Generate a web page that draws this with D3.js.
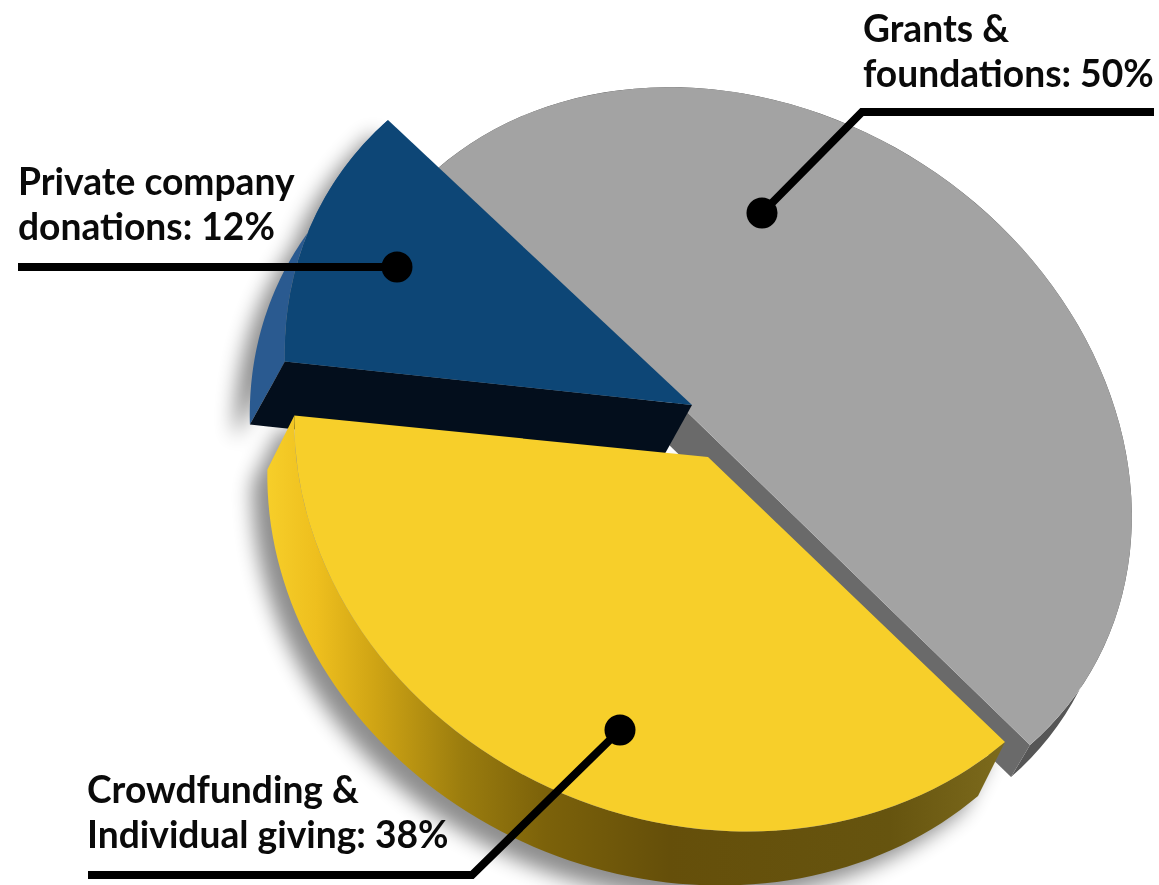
<!DOCTYPE html>
<html>
<head>
<meta charset="utf-8">
<script src="https://cdn.jsdelivr.net/npm/d3@7"></script>
<style>
  html, body { margin: 0; background: #fff; }
  svg { display: block; }
  text { font-family: Lato, sans-serif; font-weight: 700; font-size: 37.2px; fill: #0a0a0a; font-variant-ligatures: common-ligatures; }
</style>
</head>
<body>
<svg id="chart"></svg>
<script>
// values, in the order they go round the pie
const categories = ['Grants & foundations', 'Private company donations', 'Crowdfunding & Individual giving'];
const shares = [50, 12, 38];
const labelLines = [
  ['Grants &', 'foundations: '],
  ['Private company', 'donations: '],
  ['Crowdfunding &', 'Individual giving: '],
];

const width = 1159;
const height = 885;
const radius = 100;

// each slice is a flat arc pushed through its own skew, the picture is not a true ellipse
const sliceGeom = [
  { c: [733.5, 457], u: [296.5, 288], v: [266, -232], depth: [-19, 32], top: '#a3a3a3', wall: '#565656' },
  { c: [692, 405], u: [304, 285], v: [271, -240], depth: [-35, 63], top: '#0d4676', wall: '#2a5a90', side: '#030e1c' },
  { c: [708, 457], u: [297, 285], v: [288, -243], depth: [-27, 54], top: '#f7cf2a', wall: 'url(#yellowWall)' },
];

const leaderGeom = [
  { path: [[1154, 112], [862, 112], [762, 213]], dot: [762, 213], text: [863, 42] },
  { path: [[18, 267], [397, 267]], dot: [397, 267], text: [18, 195] },
  { path: [[88, 875], [472, 875], [620, 730]], dot: [620, 730], text: [87, 803] },
];

const pie = d3.pie().sort(null).value((d) => d);
const slices = pie(shares);
const arc = d3.arc().innerRadius(0).outerRadius(radius);
const line = d3.line();

const project = (g, a) => [
  g.c[0] + g.u[0] * Math.cos(a) + g.v[0] * Math.sin(a),
  g.c[1] + g.u[1] * Math.cos(a) + g.v[1] * Math.sin(a),
];
const shift = (p, d) => [p[0] + d[0], p[1] + d[1]];

const svg = d3.select('#chart')
  .attr('width', width)
  .attr('height', height)
  .attr('viewBox', `0 0 ${width} ${height}`);

const defs = svg.append('defs');

defs.append('filter')
  .attr('id', 'soft')
  .attr('x', '-20%').attr('y', '-20%').attr('width', '140%').attr('height', '140%')
  .append('feGaussianBlur')
  .attr('stdDeviation', 10);

// the source image is cropped flat just above the grey slice
defs.append('clipPath')
  .attr('id', 'topCrop')
  .append('rect')
  .attr('x', 0).attr('y', 84).attr('width', width).attr('height', height - 84);

defs.append('linearGradient')
  .attr('id', 'yellowWall')
  .attr('gradientUnits', 'userSpaceOnUse')
  .attr('x1', 265).attr('y1', 0).attr('x2', 1000).attr('y2', 0)
  .selectAll('stop')
  .data([[0, '#f7cf2a'], [0.07, '#eebf1e'], [0.15, '#cfa414'], [0.27, '#9a7c0e'], [0.38, '#7c620a'], [0.55, '#654f0a'], [0.85, '#66540f'], [1, '#7c6a1c']])
  .join('stop')
  .attr('offset', (d) => d[0])
  .attr('stop-color', (d) => d[1]);

// outer rim of a slice, face edge one way and shifted edge back
const outerWall = (d, g) => {
  const angles = d3.range(0, 81).map((i) => d.startAngle + (d.endAngle - d.startAngle) * i / 80);
  const rim = angles.map((a) => project(g, a));
  return line(rim.concat(rim.slice().reverse().map((p) => shift(p, g.depth)))) + 'Z';
};

// flat cut side from a point on the radius out to one end of the arc
const cutWall = (g, a, from) => {
  const end = project(g, a);
  return line([from, end, shift(end, g.depth), shift(from, g.depth)]) + 'Z';
};

const faceTransform = (g) => {
  const k = 1 / radius;
  return `matrix(${g.v[0] * k},${g.v[1] * k},${-g.u[0] * k},${-g.u[1] * k},${g.c[0]},${g.c[1]})`;
};

const shadow = svg.append('g')
  .attr('filter', 'url(#soft)')
  .attr('transform', 'translate(-15,14)')
  .attr('opacity', 0.45);

slices.forEach((d, i) => {
  const g = sliceGeom[i];
  if (i === 0) return;
  shadow.append('path').attr('d', outerWall(d, g)).attr('fill', '#000');
  shadow.append('path').attr('d', arc(d)).attr('transform', faceTransform(g)).attr('fill', '#000');
});

const pieGroup = svg.append('g').selectAll('g')
  .data(slices)
  .join('g')
  .attr('class', (d, i) => `slice slice-${i}`)
  .attr('clip-path', (d, i) => (i === 0 ? 'url(#topCrop)' : null));

pieGroup.each(function (d, i) {
  const g = sliceGeom[i];
  const sel = d3.select(this);

  sel.append('path')
    .attr('d', outerWall(d, g))
    .attr('fill', g.wall);

  // cut sides facing the viewer
  if (i === 0) {
    // only from under the blue slice on, further up the grey edge sits clean against it
    const from = [g.c[0] - g.u[0] * 0.2, g.c[1] - g.u[1] * 0.2];
    sel.append('path').attr('d', cutWall(g, d.startAngle, from)).attr('fill', '#6a6a6a');
  }
  if (i === 1) {
    sel.append('path').attr('d', cutWall(g, d.endAngle, g.c)).attr('fill', g.side);
  }

  sel.append('path')
    .attr('d', arc(d))
    .attr('transform', faceTransform(g))
    .attr('fill', g.top);
});

const leaders = svg.append('g').selectAll('g')
  .data(leaderGeom)
  .join('g');

leaders.append('path')
  .attr('d', (d) => line(d.path))
  .attr('fill', 'none')
  .attr('stroke', '#000')
  .attr('stroke-width', 8);

leaders.append('circle')
  .attr('cx', (d) => d.dot[0])
  .attr('cy', (d) => d.dot[1])
  .attr('r', 15.5)
  .attr('fill', '#000');

leaders.append('text')
  .attr('x', (d) => d.text[0])
  .attr('y', (d) => d.text[1])
  .attr('aria-label', (d, i) => categories[i])
  .selectAll('tspan')
  .data((d, i) => labelLines[i].map((t, j) => (j === 1 ? `${t}${shares[i]}%` : t)))
  .join('tspan')
  .attr('x', function () { return d3.select(this.parentNode).attr('x'); })
  .attr('dy', (d, j) => (j === 0 ? 0 : 45))
  .text((d) => d);
</script>
</body>
</html>
